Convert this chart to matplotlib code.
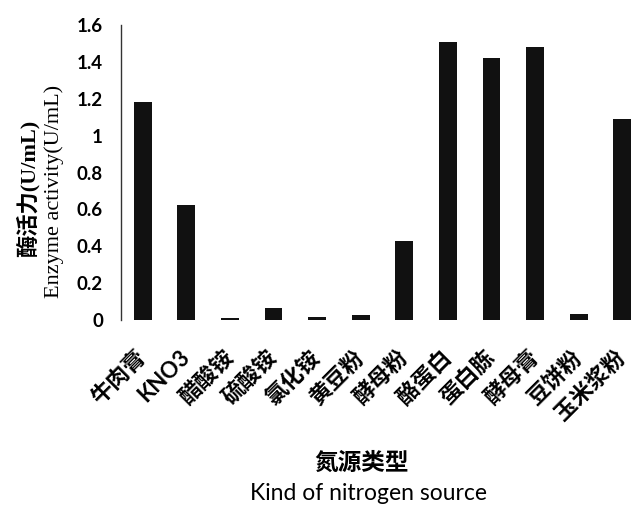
import matplotlib
matplotlib.use('Agg')
import matplotlib.pyplot as plt

sources = ['牛肉膏', 'KNO3', '醋酸铵', '硫酸铵', '氯化铵', '黄豆粉',
           '酵母粉', '酪蛋白', '蛋白胨', '酵母膏', '豆饼粉', '玉米浆粉']
activity = [1.18, 0.625, 0.01, 0.065, 0.015, 0.025,
            0.43, 1.51, 1.42, 1.48, 0.035, 1.09]
yticks = [0, 0.2, 0.4, 0.6, 0.8, 1, 1.2, 1.4, 1.6]
ytick_labels = ['0', '0.2', '0.4', '0.6', '0.8', '1', '1.2', '1.4', '1.6']

cjk = ['Noto Sans CJK SC', 'DejaVu Sans']
serif = ['Liberation Serif', 'Noto Sans CJK SC']

fig = plt.figure(figsize=(6.31, 5.11), dpi=100)
ax = fig.add_axes([121 / 631, 191 / 511, 523 / 631, 295 / 511])

x = range(len(sources))
ax.bar(x, activity, width=0.41, color='#111111')

ax.set_xlim(-0.5, len(sources) - 0.5)
ax.set_ylim(0, 1.6)
ax.set_yticks(yticks)
ax.set_yticklabels(ytick_labels, family=['Lato', 'DejaVu Sans'],
                   fontweight='bold', fontsize=13.5)
ax.tick_params(axis='y', length=0, pad=13)
ax.tick_params(axis='x', length=0, pad=4)

ax.set_xticks(list(x))
ax.set_xticklabels(sources, rotation=45, ha='right', va='center',
                   rotation_mode='anchor', family=['Lato', 'Noto Sans CJK SC'],
                   fontweight='bold', fontsize=16)
for lab in ax.get_xticklabels():
    lab.set_y(-0.095)

for side in ['top', 'right', 'bottom']:
    ax.spines[side].set_visible(False)
ax.spines['left'].set_color('#333333')
ax.spines['left'].set_linewidth(1.0)

fig.text(28 / 631, 1 - 188 / 511, '酶活力(U/mL)', rotation=90,
         ha='center', va='center', family=serif, fontweight='bold', fontsize=16)
fig.text(54 / 631, 1 - 191 / 511, 'Enzyme activity(U/mL)', rotation=90,
         ha='center', va='center', family=serif, fontsize=16)

fig.text(362 / 631, 1 - 463 / 511, '氮源类型', ha='center', va='center',
         family=cjk, fontweight='bold', fontsize=17)
fig.text(368 / 631, 1 - 493 / 511, 'Kind of nitrogen source', ha='center',
         va='center', family=['Lato', 'DejaVu Sans'], fontsize=16.5)

fig.savefig('out.png', dpi=100)
